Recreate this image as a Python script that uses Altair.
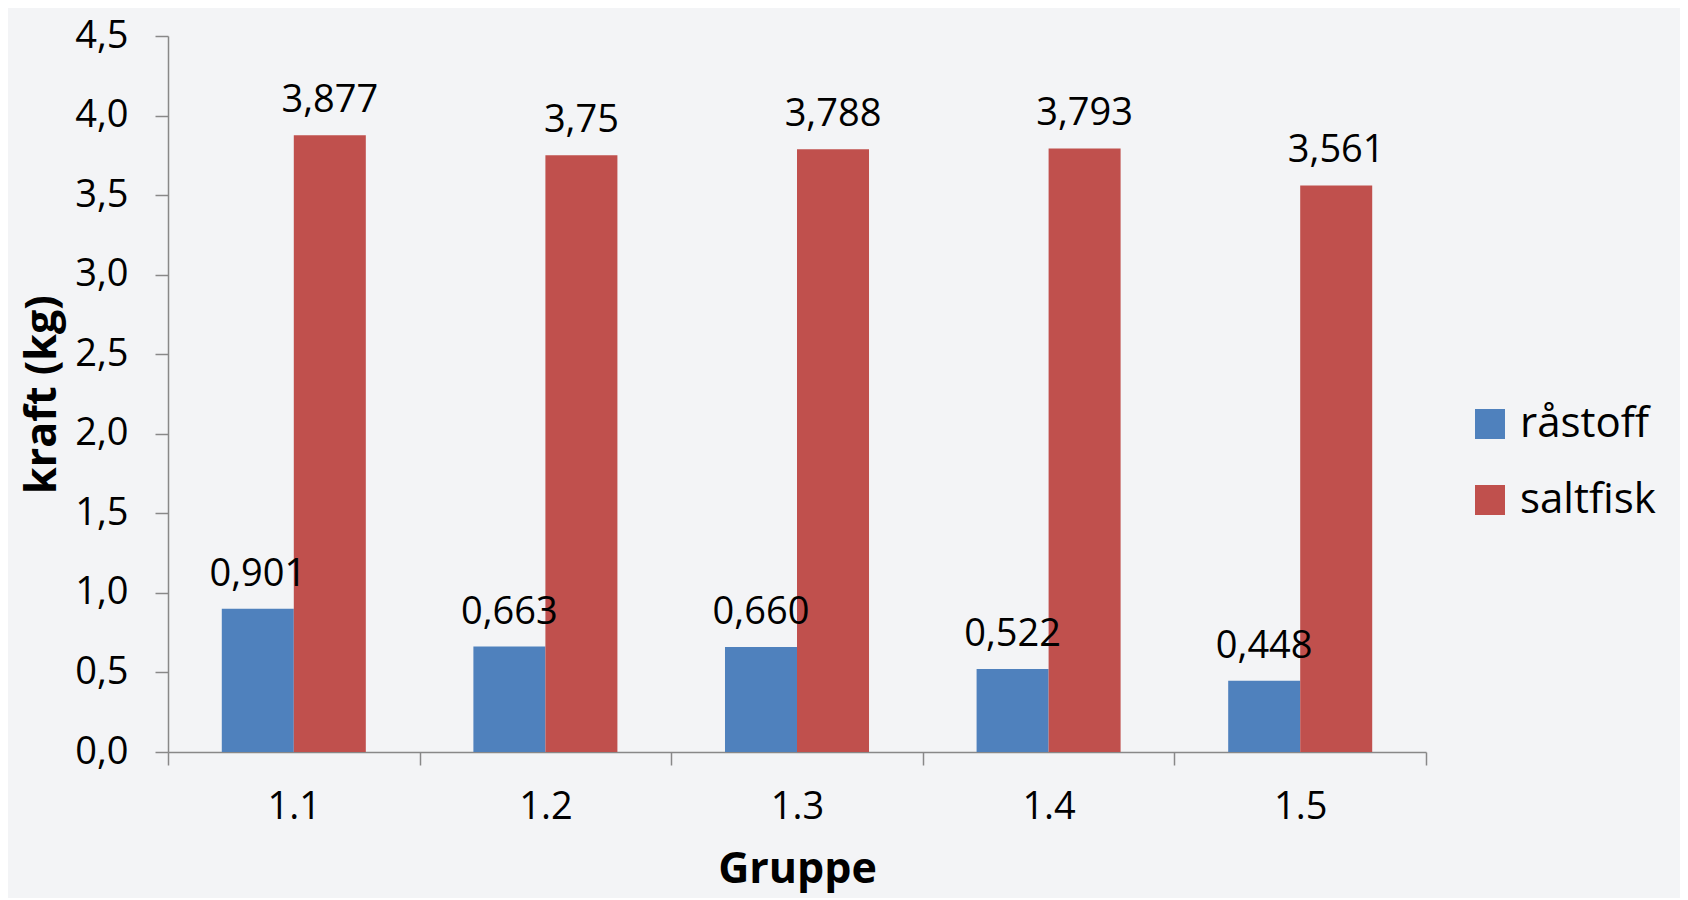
import altair as alt
import pandas as pd

groups = ["1.1", "1.2", "1.3", "1.4", "1.5"]
series = ["råstoff", "saltfisk"]
raastoff = [0.901, 0.663, 0.660, 0.522, 0.448]
saltfisk = [3.877, 3.75, 3.788, 3.793, 3.561]
raastoff_labels = ["0,901", "0,663", "0,660", "0,522", "0,448"]
saltfisk_labels = ["3,877", "3,75", "3,788", "3,793", "3,561"]
colors = ["#4F81BD", "#C0504D"]

rows = []
for g, v, l in zip(groups, raastoff, raastoff_labels):
    rows.append({"Gruppe": g, "serie": "råstoff", "kraft": v, "label": l})
for g, v, l in zip(groups, saltfisk, saltfisk_labels):
    rows.append({"Gruppe": g, "serie": "saltfisk", "kraft": v, "label": l})
df = pd.DataFrame(rows)

FONT = "Open Sans"
AX = "#888888"

x = alt.X("Gruppe:N", sort=groups,
          scale=alt.Scale(paddingInner=0, paddingOuter=0),
          axis=alt.Axis(title="Gruppe", labelAngle=0, tickBand="extent",
                        labelFontSize=38, labelFont=FONT, labelColor="black",
                        labelPadding=23, titleFontSize=43, titleFont=FONT,
                        titleFontWeight="bold", titleColor="black", titlePadding=22,
                        domainColor=AX, tickColor=AX, tickSize=13, domainWidth=1.5,
                        tickWidth=1.5))
xo = alt.XOffset("serie:N", sort=series,
                 scale=alt.Scale(paddingInner=0, paddingOuter=0.747))
y = alt.Y("kraft:Q",
          scale=alt.Scale(domain=[0, 4.5], nice=False),
          axis=alt.Axis(title="kraft (kg)", values=[0, 0.5, 1, 1.5, 2, 2.5, 3, 3.5, 4, 4.5],
                        labelExpr="replace(format(datum.value, '.1f'), '.', ',')",
                        labelFontSize=38, labelFont=FONT, labelColor="black",
                        labelPadding=27, titleFontSize=43, titleFont=FONT,
                        titleFontWeight="bold", titleColor="black", titlePadding=10,
                        domainColor=AX, tickColor=AX, tickSize=13, domainWidth=1.5,
                        tickWidth=1.5, grid=False))
color = alt.Color("serie:N", sort=series,
                  scale=alt.Scale(domain=series, range=colors),
                  legend=alt.Legend(title=None, orient="none", legendX=1301, legendY=367,
                                    symbolType="square", symbolSize=900,
                                    symbolStrokeWidth=0, labelFontSize=42,
                                    labelFont=FONT, labelColor="black",
                                    labelOffset=9, rowPadding=34))

base = alt.Chart(df)
bars = base.mark_bar(stroke=None).encode(x=x, xOffset=xo, y=y, color=color)
text = base.mark_text(baseline="bottom", dy=-15, fontSize=38, font=FONT,
                      color="black").encode(x=x, xOffset=xo, y=y, text="label:N")

chart = (bars + text).properties(
    width=1258, height=716,
    autosize=alt.AutoSizeParams(type="none"),
    padding={"left": 160, "top": 28, "right": 254, "bottom": 146},
    background="#f3f4f6",
).configure_view(stroke=None)

chart.save("out.html", embed_options={"renderer": "svg", "actions": False})
